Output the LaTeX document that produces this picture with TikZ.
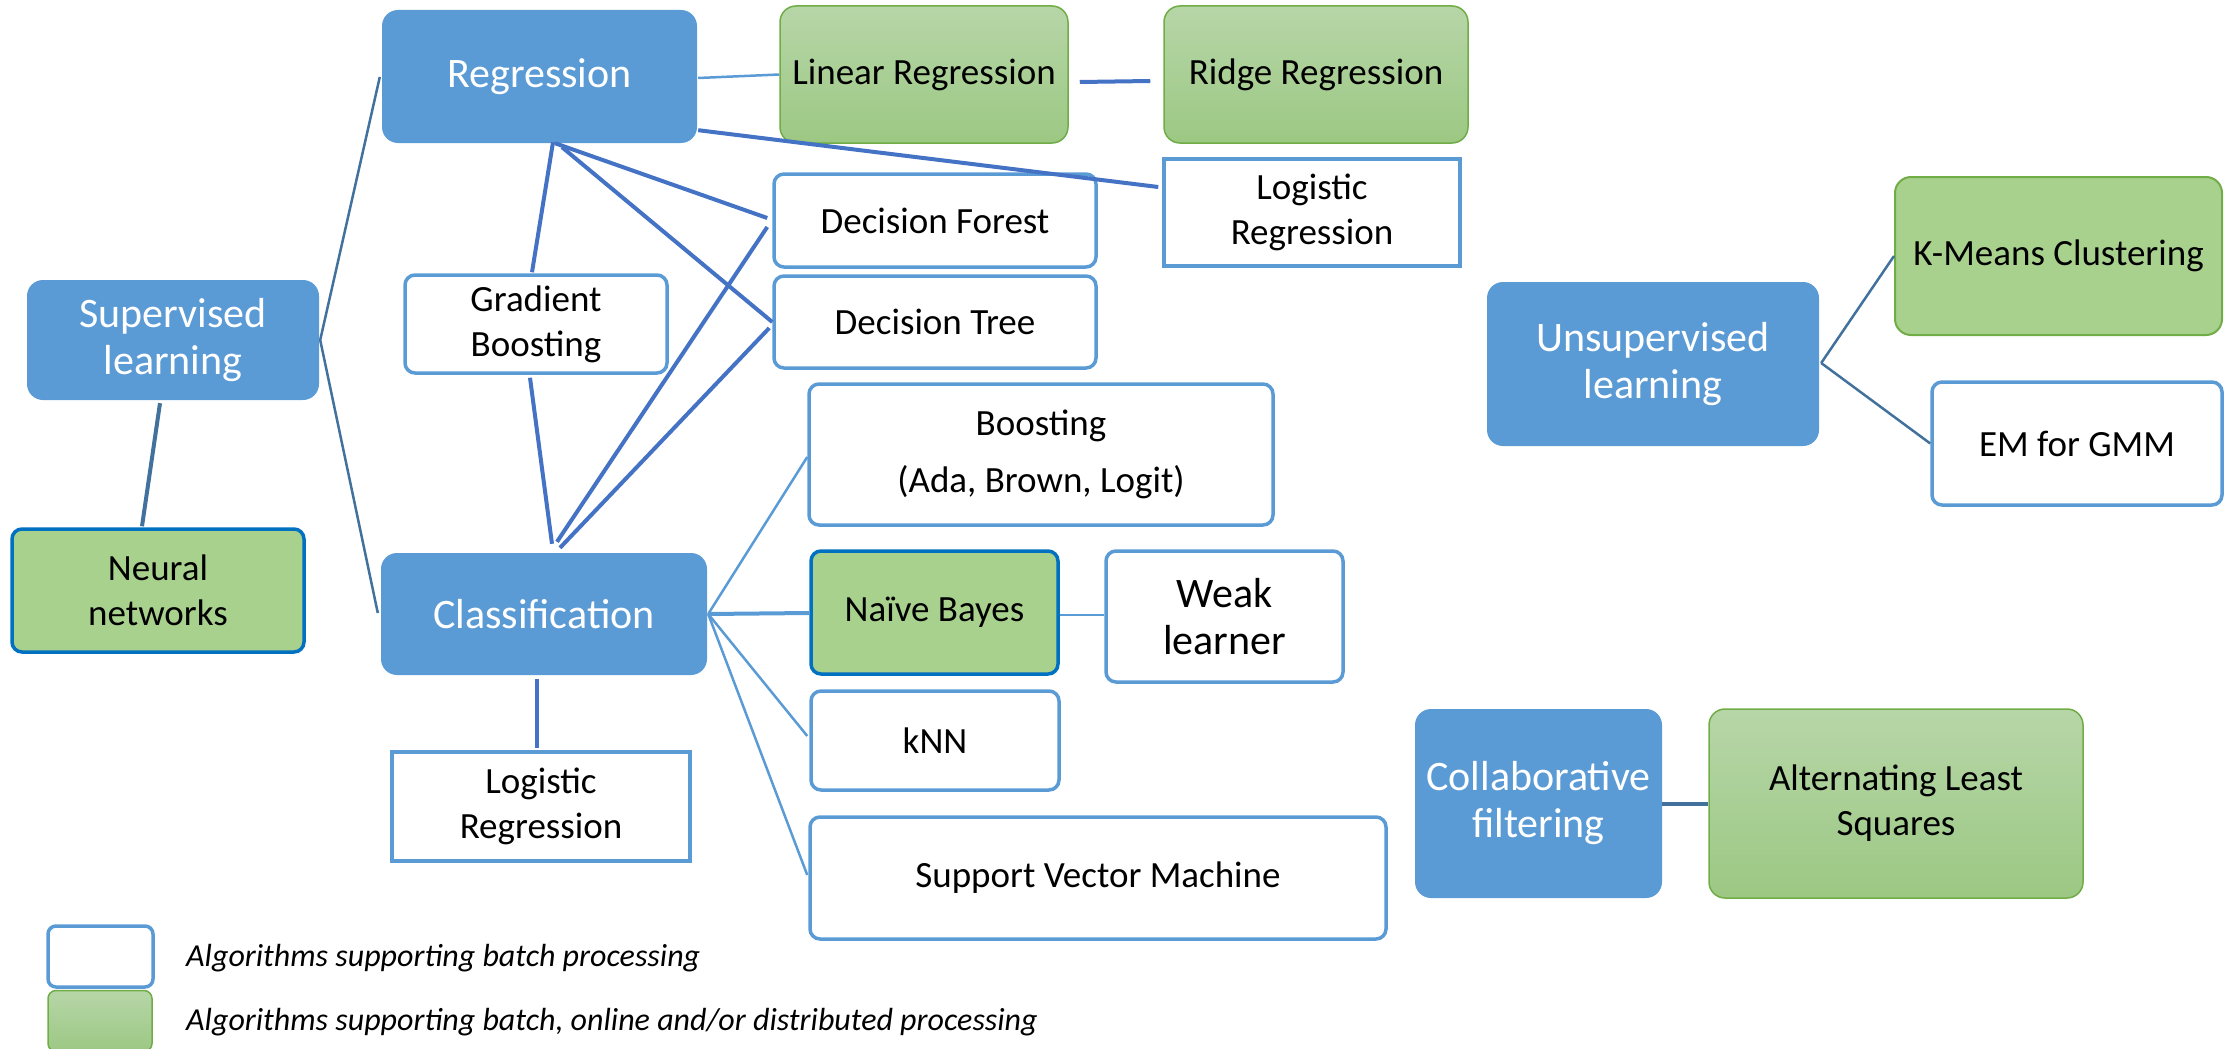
\documentclass[tikz,border=0pt]{standalone}
\usepackage{fontspec}
\setmainfont{Carlito}
\usetikzlibrary{calc}
\definecolor{cblue}{HTML}{5B9BD5}
\definecolor{cline}{HTML}{4472C4}
\definecolor{csteel}{HTML}{41719C}
\definecolor{cgtop}{HTML}{B7D6A8}
\definecolor{cgbot}{HTML}{9CC883}
\definecolor{cgflat}{HTML}{A9D18E}
\definecolor{cgborder}{HTML}{70AD47}
\definecolor{cnbborder}{HTML}{0070C0}
\tikzset{
  cat/.style={fill=cblue, draw=none, rounded corners=16pt, text=white, inner sep=0pt,
    align=center, font=\fontsize{42}{47}\selectfont},
  wbox/.style={fill=white, draw=cblue, line width=3.5pt, rounded corners=10pt, inner sep=0pt,
    align=center, font=\fontsize{37}{45}\selectfont},
  sqbox/.style={wbox, sharp corners},
  gbox/.style={top color=cgtop, bottom color=cgbot, draw=cgborder, line width=1.5pt,
    rounded corners=16pt, inner sep=0pt, align=center, font=\fontsize{37}{45}\selectfont},
  gflatbox/.style={fill=cgflat, draw=cgborder, line width=2pt, rounded corners=16pt,
    inner sep=0pt, align=center, font=\fontsize{37}{45}\selectfont},
  gbluebox/.style={fill=cgflat, draw=cnbborder, line width=3.5pt, rounded corners=10pt,
    inner sep=0pt, align=center, font=\fontsize{37}{45}\selectfont},
  legtext/.style={inner sep=0pt, anchor=west, font=\fontsize{32}{38}\selectfont\itshape},
  thinl/.style={draw=cblue, line width=2.5pt},
  midl/.style={draw=cblue, line width=4pt},
  thickl/.style={draw=cline, line width=4pt},
  steell/.style={draw=csteel, line width=2.5pt},
  steelthick/.style={draw=csteel, line width=4pt},
}
\begin{document}
\begin{tikzpicture}[x=1pt,y=-1pt]
\useasboundingbox (0,0) rectangle (2225,1049);
\clip (0,0) rectangle (2225,1049);

% category nodes
\node[cat, minimum width=292pt, minimum height=120pt] (sup) at (173,340) {Supervised\\learning};
\node[cat, minimum width=315pt, minimum height=133pt] (reg) at (539.5,76.5) {Regression};
\node[cat, minimum width=326pt, minimum height=122pt] (cls) at (544,614) {Classification};
\node[cat, minimum width=332pt, minimum height=164pt] (unsup) at (1653,364) {Unsupervised\\learning};
\node[cat, minimum width=247pt, minimum height=189pt] (collab) at (1538.5,803.5) {Collaborative\\filtering};

% algorithm nodes
\node[gbox, minimum width=288pt, minimum height=137pt] (linreg) at (924,74.5) {Linear Regression};
\node[gbox, minimum width=304pt, minimum height=137pt] (ridge) at (1316,74.5) {Ridge Regression};
\node[sqbox, minimum width=296pt, minimum height=107pt] (logtop) at (1312,212.5) {Logistic\\Regression};
\node[wbox, minimum width=322pt, minimum height=93pt] (dforest) at (935,220.5) {Decision Forest};
\node[wbox, minimum width=322pt, minimum height=92pt] (dtree) at (935,322) {Decision Tree};
\node[wbox, minimum width=262pt, minimum height=98pt] (gb) at (536,324) {Gradient\\Boosting};
\node[gbluebox, minimum width=292pt, minimum height=123pt] (nn) at (158,590.5) {Neural\\networks};
\node[sqbox, minimum width=298pt, minimum height=109pt] (logbot) at (541,806.5) {Logistic\\Regression};
\node[wbox, minimum width=464pt, minimum height=141pt, font=\fontsize{37}{57}\selectfont] (boost) at (1041,454.5) {Boosting\\(Ada, Brown, Logit)};
\node[gbluebox, minimum width=247pt, minimum height=123pt] (nb) at (934.5,612.5) {Naïve Bayes};
\node[wbox, minimum width=237pt, minimum height=131pt, font=\fontsize{42}{47}\selectfont] (weak) at (1224.5,616.5) {Weak\\learner};
\node[wbox, minimum width=248pt, minimum height=99pt] (knn) at (935,740.5) {kNN};
\node[wbox, minimum width=576pt, minimum height=122pt] (svm) at (1098,878) {Support Vector Machine};
\node[gflatbox, minimum width=327pt, minimum height=158pt] (kmeans) at (2058.5,256) {K-Means Clustering};
\node[wbox, minimum width=290pt, minimum height=123pt] (em) at (2077,443.5) {EM for GMM};
\node[gbox, minimum width=374pt, minimum height=189pt] (als) at (1896,803.5) {Alternating Least\\Squares};

% legend
\node[wbox, minimum width=105pt, minimum height=61pt, rounded corners=8pt] (legw) at (100.5,956.5) {};
\node[gbox, minimum width=104pt, minimum height=61pt, rounded corners=8pt] (legg) at (100,1021) {};
\node[legtext] (lt1) at (186,958) {Algorithms supporting batch processing};
\node[legtext] (lt2) at (186,1022) {Algorithms supporting batch, online and/or distributed processing};

% connectors
\draw[steell] ($(sup.east)+(1,0)$) -- ($(reg.west)+(-2,0.5)$);
\draw[steell] ($(sup.east)+(1,0)$) -- ($(cls.west)+(-3,-1)$);
\draw[steelthick] ($(sup.south)+(-13,3)$) -- ($(nn.north)+(-16,-1)$);

\draw[thinl] ($(reg.east)+(1,1.5)$) -- (linreg.west);
\draw[thickl] ($(linreg.east)+(11,7.5)$) -- ($(ridge.west)+(-13,6.5)$);
\draw[thickl] ($(reg.south east)+(1,-13)$) -- ($(logtop.west)+(-4,-25.5)$);
\draw[thickl] ($(reg.south)+(13.5,-1)$) -- ($(gb.north)+(-4,-1)$);
\draw[thickl] ($(reg.south)+(15.5,0)$) -- ($(dforest.west)+(-5,-2.5)$);
\draw[thickl] ($(reg.south)+(22.5,4)$) -- (dtree.west);

\draw[thickl] ($(gb.south)+(-6,3)$) -- ($(cls.north)+(8,-9)$);
\draw[thickl] ($(cls.north)+(13,-11)$) -- ($(dforest.west)+(-5,6.5)$);
\draw[thickl] ($(cls.north)+(16,-5)$) -- ($(dtree.west)+(-3,6)$);
\draw[thickl] ($(cls.south)+(-7,4)$) -- ($(logbot.north)+(-4,-2)$);

\draw[thinl] ($(cls.east)+(1,0)$) -- ($(boost.west)+(0,2.5)$);
\draw[midl] ($(cls.east)+(1,0)$) -- ($(nb.west)+(0,0.5)$);
\draw[thinl] ($(cls.east)+(1,0)$) -- ($(knn.west)+(-2,-4.5)$);
\draw[thinl] ($(cls.east)+(1,0)$) -- ($(svm.west)+(-1,-3)$);
\draw[thinl] ($(nb.east)+(0,2.5)$) -- ($(nb.east -| weak.west)+(0,2.5)$);

\draw[steell] ($(unsup.east)+(2,-1)$) -- (kmeans.west);
\draw[steell] ($(unsup.east)+(2,-1)$) -- (em.west);
\draw[steelthick] (collab.east) -- (als.west);
\end{tikzpicture}
\end{document}
